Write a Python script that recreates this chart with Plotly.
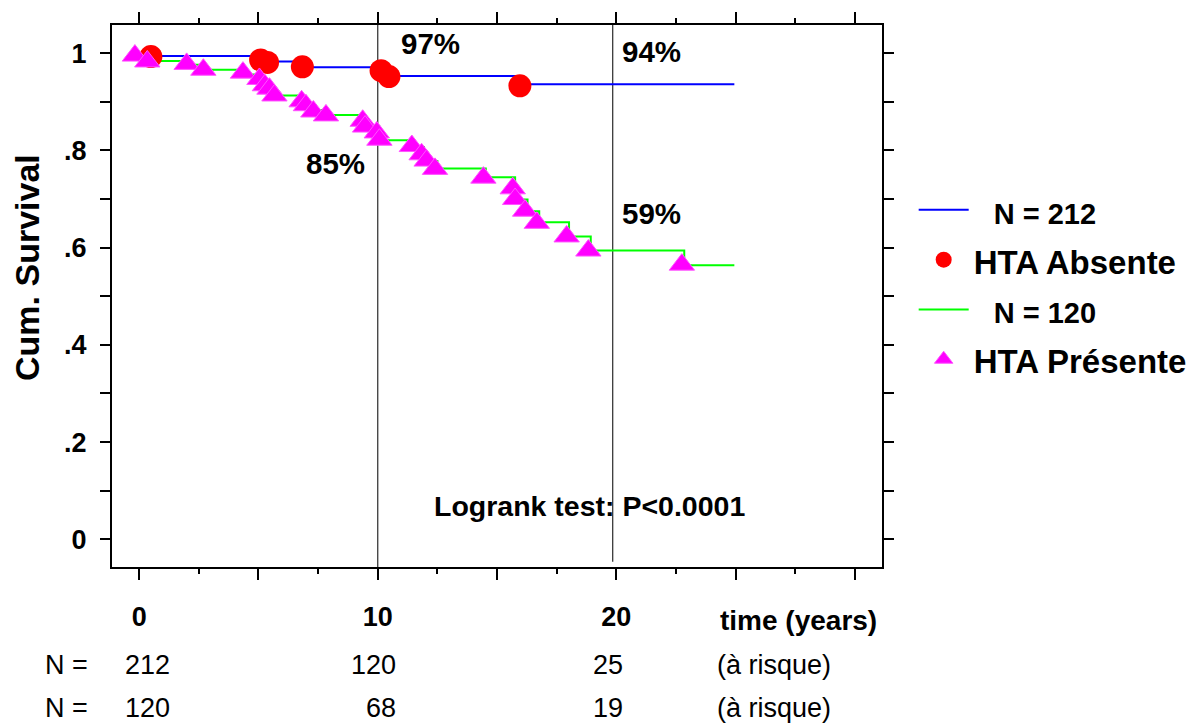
import plotly.graph_objects as go

# ---------------- data ----------------
# Kaplan-Meier step curve, HTA absente (N = 212)
blue_t = [0, 0.6, 5.15, 5.45, 6.9, 10.2, 10.5, 16.0, 24.95]
blue_s = [1.0, 0.994, 0.989, 0.983, 0.971, 0.962, 0.953, 0.936, 0.936]
# markers on the HTA absente curve
circle_t = [0.49, 5.09, 5.38, 6.84, 10.14, 10.47, 15.96]
circle_s = [0.993, 0.986, 0.981, 0.972, 0.964, 0.952, 0.933]

# Kaplan-Meier step curve, HTA présente (N = 120)
green_t = [0, 0.44, 2.09, 2.79, 4.45, 5.14, 5.37, 5.56, 5.77, 6.91, 7.09, 7.40, 7.93,
           9.47, 9.57, 10.06, 10.17, 11.53, 11.94, 12.15, 12.50, 14.53, 15.76, 15.86,
           16.28, 16.77, 18.02, 18.93, 22.85, 24.95]
green_s = [1.0, 0.984, 0.976, 0.966, 0.956, 0.946, 0.935, 0.925, 0.913, 0.903, 0.893,
           0.883, 0.873, 0.862, 0.850, 0.836, 0.821, 0.807, 0.792, 0.778, 0.763, 0.745,
           0.722, 0.699, 0.675, 0.652, 0.623, 0.594, 0.564, 0.564]
# markers on the HTA présente curve
tri_t = [-0.18, 0.34, 1.99, 2.69, 4.35, 5.04, 5.27, 5.46, 5.67, 6.81, 6.99, 7.30, 7.83,
         9.37, 9.47, 9.96, 10.07, 11.43, 11.84, 12.05, 12.40, 14.43, 15.66, 15.76,
         16.18, 16.67, 17.92, 18.83, 22.75]
tri_s = [0.995, 0.983, 0.978, 0.966, 0.960, 0.947, 0.934, 0.927, 0.913, 0.901, 0.893,
         0.880, 0.872, 0.861, 0.849, 0.837, 0.822, 0.809, 0.792, 0.779, 0.762, 0.744,
         0.722, 0.700, 0.676, 0.651, 0.623, 0.594, 0.565]

# reference lines
ref_t = [10, 19.85]
ref_bottom = [-0.057, -0.046]

# percentage labels
pct_text = ["97%", "94%", "85%", "59%"]
pct_t = [12.2, 21.49, 8.21, 21.49]
pct_s = [1.020, 1.003, 0.773, 0.670]

# number at risk
risk_times = [0, 10, 20]
risk_absente = [212, 120, 25]
risk_presente = [120, 68, 19]

# axis ticks
x_major = [0, 5, 10, 15, 20, 25, 30]
x_major_text = ["0", "", "10", "", "20", "", ""]
x_minor = [2.5, 7.5, 12.5, 17.5, 22.5, 27.5]
y_ticks = [0, 0.1, 0.2, 0.3, 0.4, 0.5, 0.6, 0.7, 0.8, 0.9, 1.0]
y_text = ["0", "", ".2", "", ".4", "", ".6", "", ".8", "", "1"]

FONT = "Liberation Sans, Arial, sans-serif"

fig = go.Figure()

fig.add_trace(go.Scatter(
    x=blue_t, y=blue_s, mode="lines", line=dict(color="#0000FF", width=2, shape="hv"),
    name="\u00a0\u00a0<span style='font-size:29px'>N = 212</span>", legendrank=1))
fig.add_trace(go.Scatter(
    x=green_t, y=green_s, mode="lines", line=dict(color="#00FF00", width=2, shape="hv"),
    name="\u00a0\u00a0<span style='font-size:29px'>N = 120</span>", legendrank=3))
fig.add_trace(go.Scatter(
    x=circle_t, y=circle_s, mode="markers",
    marker=dict(symbol="circle", size=23, color="#FF0000", line=dict(width=0)),
    name="<span style='font-size:33px'>HTA Absente</span>", legendrank=2))
fig.add_trace(go.Scatter(
    x=tri_t, y=tri_s, mode="markers",
    marker=dict(symbol="triangle-up", size=22, color="#FF00FF",
                line=dict(width=1, color="#FF55FF")),
    name="<span style='font-size:33px'>HTA Présente</span>", legendrank=4))

for t, yb in zip(ref_t, ref_bottom):
    fig.add_shape(type="line", xref="x", yref="y", x0=t, x1=t, y0=yb, y1=1.058,
                  line=dict(color="#3a3a3a", width=1.3), layer="below")

for txt, t, s in zip(pct_text, pct_t, pct_s):
    fig.add_annotation(x=t, y=s, xref="x", yref="y", text=txt, showarrow=False,
                       font=dict(family=FONT, size=29.5, color="black", weight="bold"),
                       xanchor="center", yanchor="middle")

fig.add_annotation(x=18.86, y=0.0695, xref="x", yref="y", text="Logrank test: P<0.0001",
                   showarrow=False, xanchor="center", yanchor="middle",
                   font=dict(family=FONT, size=28.5, color="black", weight="bold"))

fig.add_annotation(x=27.66, y=-0.098, xref="x", yref="paper", text="time (years)",
                   showarrow=False, xanchor="center", yanchor="middle",
                   font=dict(family=FONT, size=28, color="black", weight="bold"))

fig.add_annotation(x=-0.005, y=0.552, xref="paper", yref="paper", text="Cum. Survival",
                   textangle=-90, showarrow=False, xanchor="center", yanchor="middle",
                   xshift=-81,
                   font=dict(family=FONT, size=34, color="black", weight="bold"))

row_y = [-0.181, -0.260]
col_shift = [33, 20, 9]
for yy, vals in zip(row_y, [risk_absente, risk_presente]):
    fig.add_annotation(x=0, y=yy, xref="paper", yref="paper", text="N =",
                       showarrow=False, xanchor="right", yanchor="middle", xshift=-22,
                       font=dict(family=FONT, size=27, color="black"))
    for t, v, sh in zip(risk_times, vals, col_shift):
        fig.add_annotation(x=t, y=yy, xref="x", yref="paper", text=str(v),
                           showarrow=False, xanchor="right", yanchor="middle", xshift=sh,
                           font=dict(family=FONT, size=27, color="black"))
    fig.add_annotation(x=24.15, y=yy, xref="x", yref="paper", text="(à risque)",
                       showarrow=False, xanchor="left", yanchor="middle",
                       font=dict(family=FONT, size=27, color="black"))

fig.update_layout(
    width=1190, height=727,
    margin=dict(l=112, r=308, t=25, b=160, autoexpand=False),
    paper_bgcolor="white", plot_bgcolor="white",
    font=dict(family=FONT, color="black"),
    showlegend=True,
    legend=dict(xref="container", yref="container", x=0.7678, y=0.7525,
                xanchor="left", yanchor="top",
                font=dict(family=FONT, size=36, color="black", weight="bold"),
                itemwidth=50, tracegroupgap=0, bgcolor="rgba(0,0,0,0)"),
    xaxis=dict(range=[-1.14, 31.14], tickmode="array", tickvals=x_major, ticktext=x_major_text,
               ticks="outside", ticklen=11, tickwidth=2, tickcolor="black",
               minor=dict(tickmode="array", tickvals=x_minor, ticks="outside", ticklen=5,
                          tickwidth=2, tickcolor="black", showgrid=False),
               showline=True, linewidth=2, linecolor="black", mirror="ticks",
               showgrid=False, zeroline=False, ticklabelstandoff=14,
               tickfont=dict(family=FONT, size=27, color="black", weight="bold")),
    yaxis=dict(range=[-0.057, 1.058], tickmode="array", tickvals=y_ticks, ticktext=y_text,
               ticks="outside", ticklen=10, tickwidth=2, tickcolor="black",
               showline=True, linewidth=2, linecolor="black", mirror="ticks",
               showgrid=False, zeroline=False, ticklabelstandoff=8,
               tickfont=dict(family=FONT, size=27, color="black", weight="bold")),
)

fig.write_html("out.html", config={"displayModeBar": False},
               post_script="document.body.style.margin='0px';document.body.style.overflow='hidden';")
